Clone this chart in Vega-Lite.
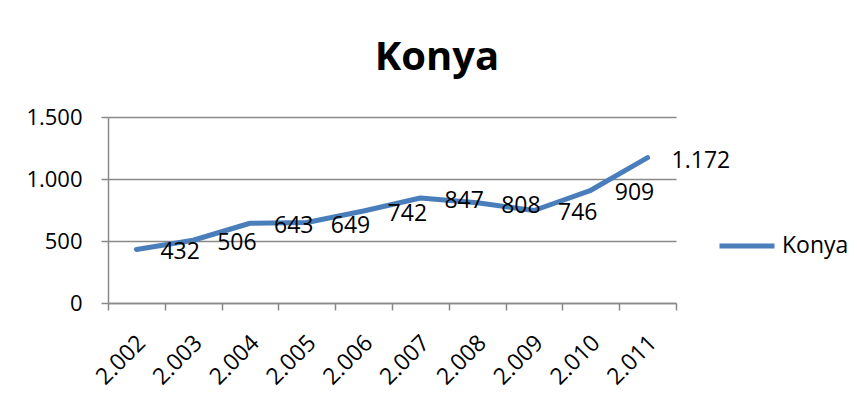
{
  "$schema": "https://vega.github.io/schema/vega-lite/v6.json",
  "width": 568,
  "height": 186,
  "autosize": {"type": "none"},
  "padding": {"left": 108, "top": 117, "right": 181, "bottom": 100},
  "background": "white",
  "title": {
    "text": "Konya",
    "font": "Open Sans",
    "fontSize": 40,
    "fontWeight": "bold",
    "color": "#000000",
    "anchor": "middle",
    "frame": "group",
    "dx": 45,
    "offset": 28
  },
  "config": {
    "locale": {"number": {"decimal": ",", "thousands": ".", "grouping": [3], "currency": ["", ""]}},
    "view": {"stroke": null},
    "font": "Open Sans"
  },
  "data": {
    "values": [
      {"year": "2.002", "value": 432, "series": "Konya"},
      {"year": "2.003", "value": 506, "series": "Konya"},
      {"year": "2.004", "value": 643, "series": "Konya"},
      {"year": "2.005", "value": 649, "series": "Konya"},
      {"year": "2.006", "value": 742, "series": "Konya"},
      {"year": "2.007", "value": 847, "series": "Konya"},
      {"year": "2.008", "value": 808, "series": "Konya"},
      {"year": "2.009", "value": 746, "series": "Konya"},
      {"year": "2.010", "value": 909, "series": "Konya"},
      {"year": "2.011", "value": 1172, "series": "Konya"}
    ]
  },
  "encoding": {
    "x": {
      "field": "year",
      "type": "ordinal",
      "scale": {"type": "band", "paddingInner": 0, "paddingOuter": 0},
      "axis": {
        "title": null,
        "tickBand": "extent",
        "domainColor": "#898989",
        "domainWidth": 1.5,
        "tickColor": "#898989",
        "tickWidth": 1.5,
        "tickSize": 7,
        "labelAngle": -45,
        "labelAlign": "right",
        "labelBaseline": "middle",
        "labelFont": "Open Sans",
        "labelFontSize": 23,
        "labelColor": "#000000",
        "labelPadding": 29,
        "labelOffset": 5,
        "grid": false
      }
    },
    "y": {
      "field": "value",
      "type": "quantitative",
      "scale": {"domain": [0, 1500], "nice": false},
      "axis": {
        "title": null,
        "values": [0, 500, 1000, 1500],
        "format": ",d",
        "domainColor": "#898989",
        "domainWidth": 1.5,
        "tickColor": "#898989",
        "tickWidth": 1.5,
        "tickSize": 7,
        "gridColor": "#898989",
        "gridWidth": 1.5,
        "labelFont": "Open Sans",
        "labelFontSize": 22,
        "labelColor": "#000000",
        "labelPadding": 19
      }
    }
  },
  "layer": [
    {
      "mark": {"type": "line", "strokeWidth": 5, "strokeCap": "round", "strokeJoin": "round"},
      "encoding": {
        "color": {
          "field": "series",
          "type": "nominal",
          "scale": {"range": ["#4A7EBB"]},
          "legend": {
            "title": null,
            "orient": "none",
            "legendX": 609,
            "legendY": 99,
            "symbolType": "stroke",
            "symbolSize": 3025,
            "symbolStrokeWidth": 5,
            "labelFont": "Open Sans",
            "labelFontSize": 23,
            "labelColor": "#000000",
            "labelOffset": 5
          }
        }
      }
    },
    {
      "mark": {"type": "text", "align": "left", "baseline": "middle", "dx": 24, "dy": 3, "fontSize": 23, "font": "Open Sans", "color": "#000000"},
      "encoding": {
        "text": {"field": "value", "type": "quantitative", "format": ",d"}
      }
    }
  ]
}
